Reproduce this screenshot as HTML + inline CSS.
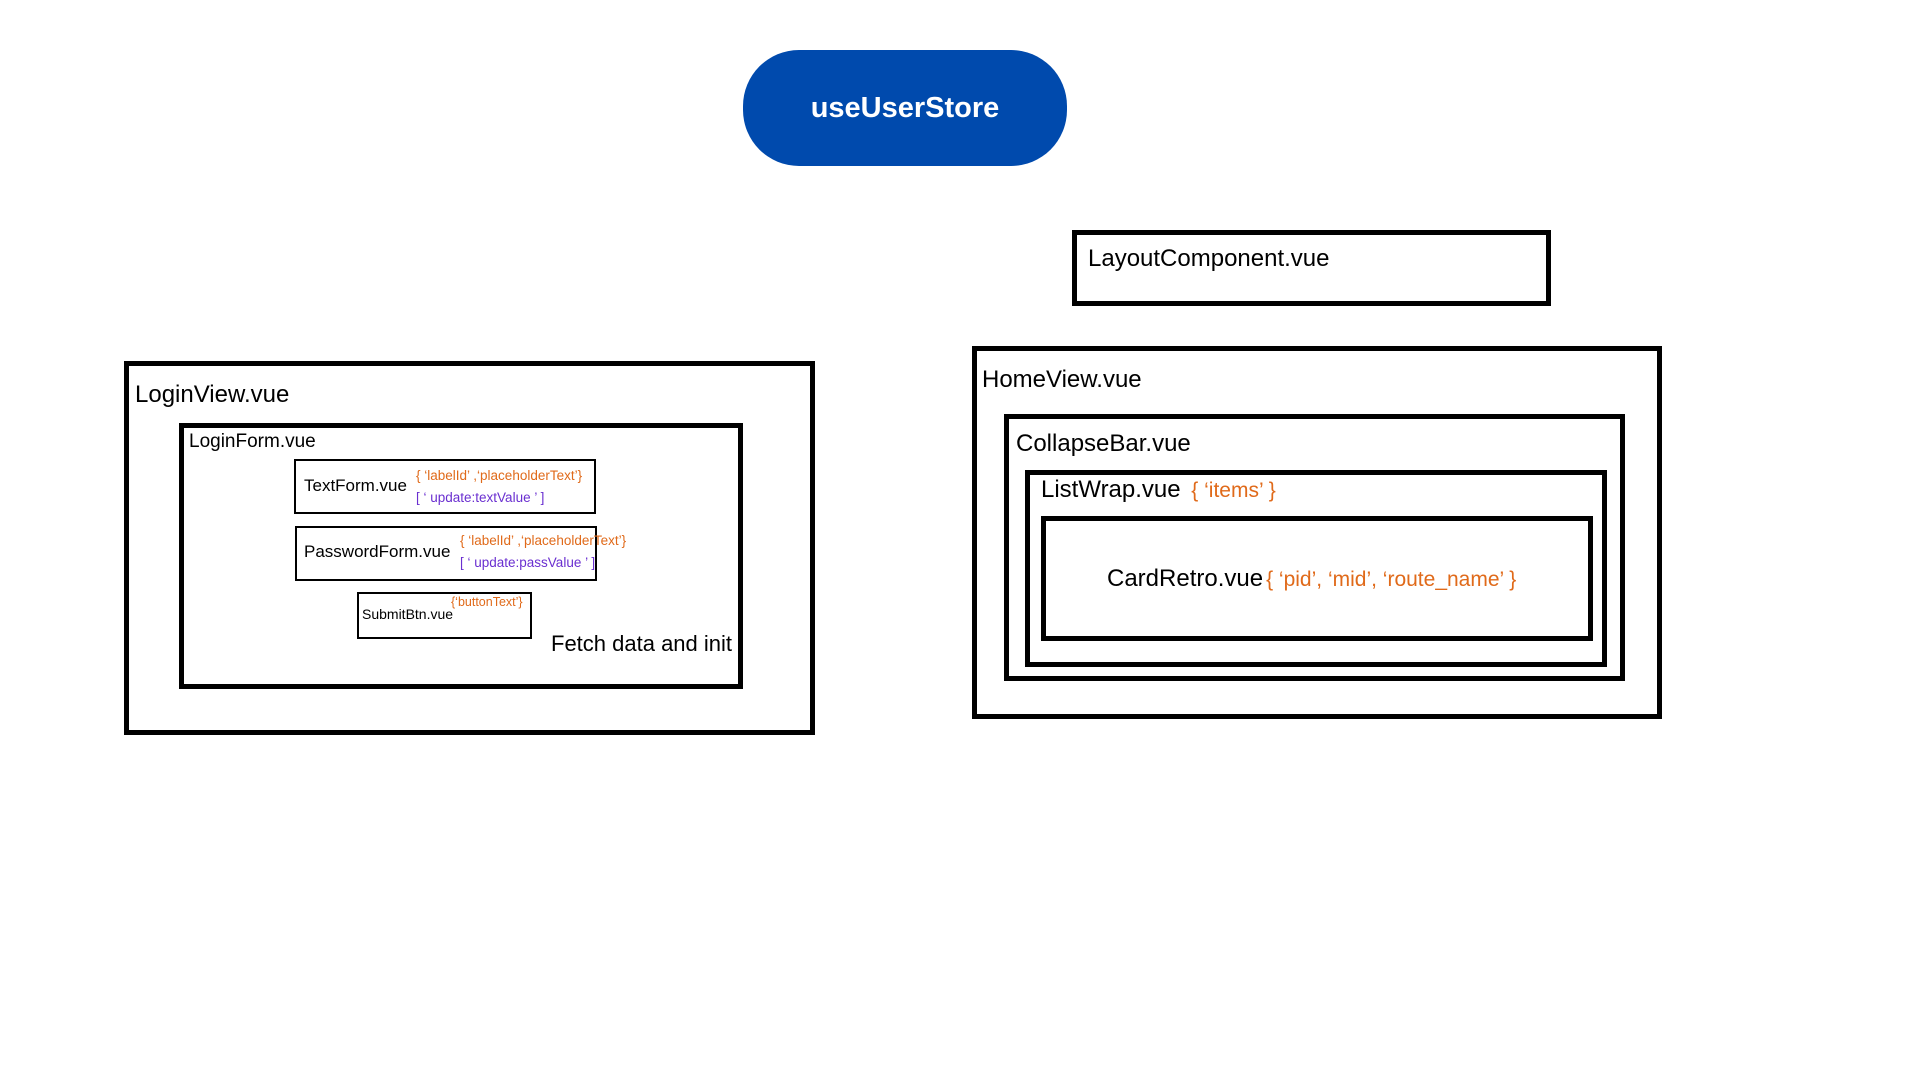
<!DOCTYPE html>
<html><head><meta charset="utf-8"><style>
body{margin:0;width:1920px;height:1080px;background:#fff;position:relative;overflow:hidden;font-family:"Liberation Sans",Arial,sans-serif;}
.b{position:absolute;box-sizing:border-box;border:5px solid #000;}
.t{position:absolute;white-space:nowrap;line-height:1;color:#000;}
.o{color:#e06a1a;}
.p{color:#6a2fd0;}
</style></head><body>
<div style="position:absolute;left:743px;top:50px;width:324px;height:116px;background:#004aad;border-radius:56px;"></div>
<div class="t" style="left:743px;width:324px;top:94px;text-align:center;color:#fff;font-weight:bold;font-size:29px;">useUserStore</div>

<div class="b" style="left:1072px;top:230px;width:479px;height:76px;"></div>
<div class="t" style="left:1088px;top:247px;font-size:24px;">LayoutComponent.vue</div>

<div class="b" style="left:972px;top:346px;width:690px;height:373px;"></div>
<div class="t" style="left:982px;top:368px;font-size:24px;">HomeView.vue</div>
<div class="b" style="left:1004px;top:414px;width:621px;height:267px;"></div>
<div class="t" style="left:1016px;top:432px;font-size:24px;">CollapseBar.vue</div>
<div class="b" style="left:1025px;top:470px;width:582px;height:197px;"></div>
<div class="t" style="left:1041px;top:478px;font-size:24px;">ListWrap.vue <span class="o" style="margin-left:4px;font-size:21px">{ ‘items’ }</span></div>
<div class="b" style="left:1041px;top:516px;width:552px;height:125px;"></div>
<div class="t" style="left:1107px;top:567px;font-size:24px;">CardRetro.vue<span class="o" style="font-size:21px;margin-left:3px">{ ‘pid’, ‘mid’, ‘route_name’ }</span></div>

<div class="b" style="left:124px;top:361px;width:691px;height:374px;"></div>
<div class="t" style="left:135px;top:383px;font-size:24px;">LoginView.vue</div>
<div class="b" style="left:179px;top:423px;width:564px;height:266px;"></div>
<div class="t" style="left:189px;top:432px;font-size:19px;">LoginForm.vue</div>

<div class="b" style="left:294px;top:459px;width:302px;height:55px;border-width:2px;"></div>
<div class="t" style="left:304px;top:477px;font-size:17px;">TextForm.vue</div>
<div class="t o" style="left:416px;top:469px;font-size:13.5px;">{ ‘labelId’ ,‘placeholderText’}</div>
<div class="t p" style="left:416px;top:491px;font-size:13.5px;">[ ‘ update:textValue ’ ]</div>

<div class="b" style="left:295px;top:526px;width:302px;height:55px;border-width:2px;"></div>
<div class="t" style="left:304px;top:543px;font-size:17px;">PasswordForm.vue</div>
<div class="t o" style="left:460px;top:534px;font-size:13.5px;">{ ‘labelId’ ,‘placeholderText’}</div>
<div class="t p" style="left:460px;top:556px;font-size:13.5px;">[ ‘ update:passValue ’ ]</div>

<div class="b" style="left:357px;top:592px;width:175px;height:47px;border-width:2px;"></div>
<div class="t" style="left:362px;top:607px;font-size:14px;">SubmitBtn.vue</div>
<div class="t o" style="left:451px;top:596px;font-size:12.5px;">{‘buttonText’}</div>

<div class="t" style="left:551px;top:633px;font-size:22px;">Fetch data and init</div>
</body></html>
